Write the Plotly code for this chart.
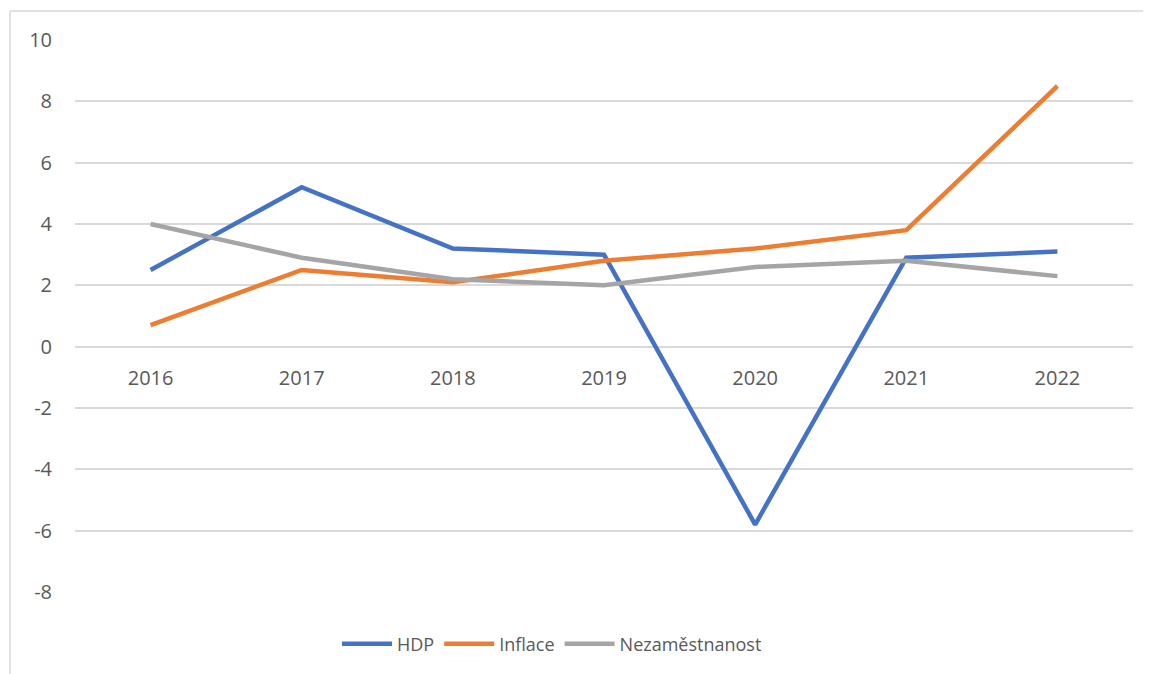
import plotly.graph_objects as go

years = ["2016", "2017", "2018", "2019", "2020", "2021", "2022"]
hdp = [2.5, 5.2, 3.2, 3.0, -5.8, 2.9, 3.1]
inflace = [0.7, 2.5, 2.1, 2.8, 3.2, 3.8, 8.5]
nezamestnanost = [4.0, 2.9, 2.2, 2.0, 2.6, 2.8, 2.3]
y_ticks = [-8, -6, -4, -2, 0, 2, 4, 6, 8, 10]
y_tick_labels = ["-8", "-6", "-4", "-2", "0", "2", "4", "6", "8", "10"]

series = [
    ("HDP", hdp, "#4472C4"),
    ("Inflace", inflace, "#ED7D31"),
    ("Nezaměstnanost", nezamestnanost, "#A5A5A5"),
]

fig = go.Figure()
for name, vals, color in series:
    fig.add_trace(go.Scatter(x=years, y=vals, name=name, mode="lines",
                             line=dict(color=color, width=4.5)))

OFF = 8  # page body margin
W, H = 1151 - OFF, 674 - OFF
ml, mr, mt, mb = 75 - OFF, 18, 40 - OFF, 82
pw, ph = W - ml - mr, H - mt - mb

def px_x(p):
    return (p - OFF - ml) / pw

def px_y(p):
    return (H - mb - (p - OFF)) / ph

fig.update_layout(
    width=W, height=H,
    margin=dict(l=ml, r=mr, t=mt, b=mb, autoexpand=False),
    paper_bgcolor="white", plot_bgcolor="white",
    font=dict(family="Open Sans, Liberation Sans, sans-serif", color="#595959", size=20),
    showlegend=True,
    legend=dict(orientation="h", x=px_x(552), xanchor="center", y=px_y(644), yanchor="middle",
                font=dict(size=18, color="#595959"), itemwidth=50, tracegroupgap=0),
    xaxis=dict(type="category", range=[-0.5, 6.5], showgrid=False, showline=False,
               zeroline=False, ticks="", anchor="free", position=8/18,
               tickfont=dict(size=20, color="#595959"), ticklabelstandoff=17),
    yaxis=dict(range=[-8, 10], tickvals=y_ticks, ticktext=y_tick_labels,
               showgrid=True, gridcolor="#D9D9D9",
               gridwidth=1.5, zeroline=False, showline=False, ticks="",
               tickfont=dict(size=20, color="#595959"), ticklabelstandoff=22),
    shapes=[
        dict(type="line", xref="paper", yref="paper", x0=px_x(10), x1=px_x(10),
             y0=px_y(11), y1=px_y(700), line=dict(color="#D9D9D9", width=1.5), layer="below"),
        dict(type="line", xref="paper", yref="paper", x0=px_x(10), x1=px_x(1180),
             y0=px_y(11), y1=px_y(11), line=dict(color="#D9D9D9", width=1.5), layer="below"),
    ],
)

fig.write_html("out.html")
